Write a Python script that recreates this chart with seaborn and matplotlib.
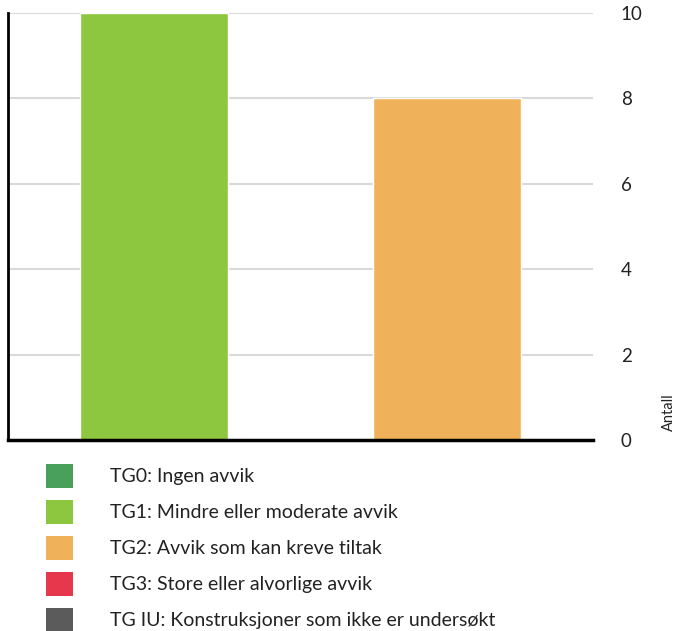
import seaborn as sns
import matplotlib.pyplot as plt
from matplotlib.patches import Patch
import pandas as pd

# data
kategorier = ["TG1", "TG2"]
antall = [10, 8]
bar_farger = ["#8dc63f", "#efb25a"]

legend_tekst = [
    "TG0: Ingen avvik",
    "TG1: Mindre eller moderate avvik",
    "TG2: Avvik som kan kreve tiltak",
    "TG3: Store eller alvorlige avvik",
    "TG IU: Konstruksjoner som ikke er undersøkt",
]
legend_farger = ["#48a05b", "#8dc63f", "#efb25a", "#e5384c", "#5b5b5b"]

df = pd.DataFrame({"kategori": kategorier, "antall": antall})

sns.set_style("white")
plt.rcParams['font.family'] = ['Lato', 'DejaVu Sans']

fig = plt.figure(figsize=(6.9, 6.31), dpi=100)
ax = fig.add_axes([8/690, 1-440/631, (593-8)/690, (440-13)/631])

sns.barplot(data=df, x="kategori", y="antall", hue="kategori",
            palette=bar_farger, width=0.505, saturation=1, legend=False, ax=ax)

ax.set_ylim(0, 10)
ax.set_xlim(-0.5, 1.5)
ax.set_yticks([0, 2, 4, 6, 8, 10])
ax.yaxis.tick_right()
ax.yaxis.set_label_position("right")
ax.tick_params(axis="y", length=0, pad=20, labelsize=13.5, labelcolor="#222222")
ax.set_xticks([])
ax.set_xlabel("")
ax.set_ylabel("Antall", fontsize=10.5, color="#222222")
ax.yaxis.set_label_coords(1.118, 0.065)
ax.grid(axis="y", color="#d9d9d9", linewidth=1.5)
ax.set_axisbelow(True)
for s in ["top", "right"]:
    ax.spines[s].set_visible(False)
ax.spines["left"].set_color("black")
ax.spines["left"].set_linewidth(2)
ax.spines["bottom"].set_color("black")
ax.spines["bottom"].set_linewidth(2.5)

handles = [Patch(facecolor=c, edgecolor="none") for c in legend_farger]
fig.legend(handles, legend_tekst, loc="upper left", bbox_to_anchor=(46/690, 1-464/631),
           frameon=False, fontsize=14, handlelength=1.4, handleheight=1.5,
           handletextpad=1.9, labelspacing=0.63, borderaxespad=0, borderpad=0,
           labelcolor="#222222")

fig.savefig("out.png", dpi=100)
